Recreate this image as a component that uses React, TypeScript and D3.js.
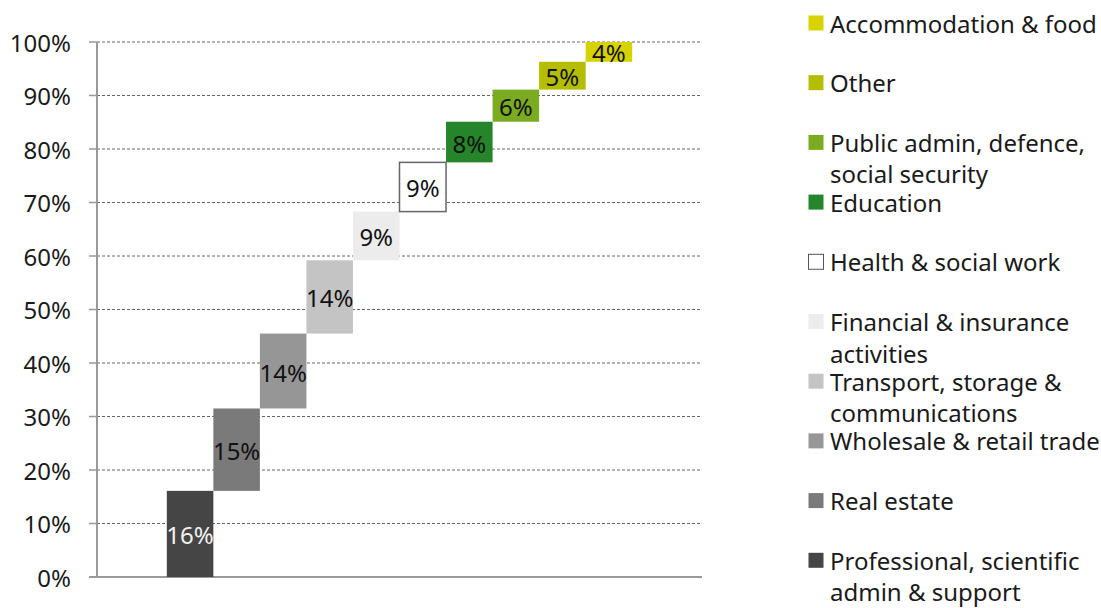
import React from "react";
import * as d3 from "d3";

const categories = [
  "Professional, scientific\nadmin & support",
  "Real estate",
  "Wholesale & retail trade",
  "Transport, storage &\ncommunications",
  "Financial & insurance\nactivities",
  "Health & social work",
  "Education",
  "Public admin, defence,\nsocial security",
  "Other",
  "Accommodation & food",
];
const shares = [0.161, 0.154, 0.14, 0.137, 0.091, 0.092, 0.076, 0.06, 0.052, 0.037];
const colors = [
  "#454545", "#7a7a7a", "#969696", "#c4c4c4", "#ececec",
  "#ffffff", "#26842a", "#7aab20", "#b5bd00", "#d7d300",
];
const labelColors = ["#f2f2f2", "#111", "#111", "#111", "#111", "#111", "#111", "#111", "#111", "#111"];
const yTicks = [0, 0.1, 0.2, 0.3, 0.4, 0.5, 0.6, 0.7, 0.8, 0.9, 1.0];

const W = 1101;
const H = 608;
const FONT = "'Noto Sans', 'Open Sans', sans-serif";
const FS = 24;

export default function App() {
  const left = 97, right = 702, top = 42, bottom = 577;
  const step = (right - left) / (categories.length + 3);
  const x = d3.scaleBand<string>().domain(categories).range([left + 1.5 * step, right - 1.5 * step]).padding(0);
  const y = d3.scaleLinear().domain([0, 1]).range([bottom, top]);
  const fmt = d3.format(".0%");

  let acc = 0;
  const bars = categories.map((c, i) => {
    const start = acc;
    acc += shares[i];
    return { c, i, start, end: acc, v: shares[i] };
  });

  const legendItems = categories.map((c, i) => ({ c, i })).reverse();
  const legendTop = 23;
  const legendStep = 59.7;

  return (
    <svg width={W} height={H} style={{ position: "absolute", left: 0, top: 0, background: "#fff" }} fontFamily={FONT}>
      {yTicks.map((t) => (
        <g key={t}>
          {t > 0 && (
            <line x1={left} x2={right} y1={y(t)} y2={y(t)} stroke="#666" strokeWidth={1} strokeDasharray="3,2" />
          )}
          <line x1={89} x2={left} y1={y(t)} y2={y(t)} stroke="#999" strokeWidth={1.5} />
          <text x={71} y={y(t)} textAnchor="end" dominantBaseline="central" fontSize={FS} fill="#1a1a1a">
            {fmt(t)}
          </text>
        </g>
      ))}
      <line x1={left} x2={left} y1={top} y2={bottom} stroke="#999" strokeWidth={2} />
      <line x1={89} x2={right} y1={bottom} y2={bottom} stroke="#999" strokeWidth={2} />
      {bars.map((b) => (
        <g key={b.c}>
          <rect
            x={x(b.c)!}
            y={y(b.end)}
            width={x.bandwidth()}
            height={y(b.start) - y(b.end)}
            fill={colors[b.i]}
            stroke={b.i === 5 ? "#666" : "none"}
            strokeWidth={1.5}
          />
          <text
            x={x(b.c)! + x.bandwidth() / 2}
            y={(y(b.start) + y(b.end)) / 2 + 1}
            textAnchor="middle"
            dominantBaseline="central"
            fontSize={FS}
            fill={labelColors[b.i]}
          >
            {fmt(b.v)}
          </text>
        </g>
      ))}
      {legendItems.map((it, k) => {
        const cy = legendTop + k * legendStep;
        const lines = it.c.split("\n");
        return (
          <g key={it.c}>
            <rect
              x={808.5}
              y={cy - 7.5}
              width={15}
              height={15}
              fill={colors[it.i]}
              stroke={it.i === 5 ? "#555" : "none"}
              strokeWidth={1}
            />
            {lines.map((ln, j) => (
              <text key={j} x={830} y={cy + j * 31.5} dominantBaseline="central" fontSize={FS} fill="#1a1a1a">
                {ln}
              </text>
            ))}
          </g>
        );
      })}
    </svg>
  );
}
